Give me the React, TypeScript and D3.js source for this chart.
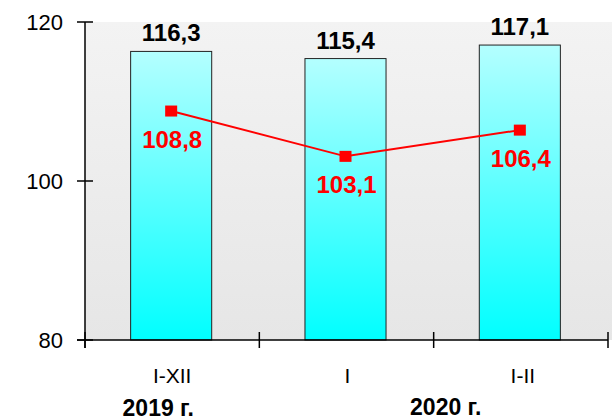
import React from "react";
import * as d3 from "d3";

const categories = ["I-XII", "I", "I-II"];
const barValues = [116.3, 115.4, 117.1];
const lineValues = [108.8, 103.1, 106.4];
const yTicks = [80, 100, 120];
const groupLabels = [
  { text: "2019 г.", from: 0, to: 0, shift: -14, baseline: 416 },
  { text: "2020 г.", from: 1, to: 2, shift: 12, baseline: 415 },
];
const fmt = (v: number) => v.toFixed(1).replace(".", ",");

export default function App() {
  const W = 612, H = 420;
  const left = 85, right = 608, top = 22, bottom = 340;
  const x = d3.scaleBand<string>().domain(categories).range([left, right]).paddingInner(0).paddingOuter(0);
  const y = d3.scaleLinear().domain([80, 120]).range([bottom, top]);
  const bw = x.bandwidth() * 0.465;
  const cx = (c: string) => (x(c) as number) + x.bandwidth() / 2 - 1;
  const line = d3.line<number>().x((_, i) => cx(categories[i])).y((d) => y(d));
  const font = "'Liberation Sans', Arial, sans-serif";
  const xTickPos = [left, ...categories.map((c) => (x(c) as number) + x.bandwidth())];

  return (
    <svg width={W} height={H} style={{ position: "absolute", left: 0, top: 0 }} fontFamily={font}>
      <defs>
        <linearGradient id="bg" x1="0" y1="0" x2="0" y2="1">
          <stop offset="0" stopColor="#f3f3f3" />
          <stop offset="1" stopColor="#e6e6e6" />
        </linearGradient>
        <linearGradient id="bar" x1="0" y1="0" x2="0" y2="1">
          <stop offset="0" stopColor="#b4ffff" />
          <stop offset="1" stopColor="#00ffff" />
        </linearGradient>
      </defs>
      <rect x={0} y={0} width={W} height={H} fill="#fff" />
      <rect x={left} y={top} width={W - left} height={bottom - top} fill="url(#bg)" />
      {categories.map((c, i) => (
        <rect key={c} x={cx(c) - bw / 2} y={y(barValues[i])} width={bw} height={bottom - y(barValues[i])}
          fill="url(#bar)" stroke="#222" strokeWidth={1} />
      ))}
      {categories.map((c, i) => (
        <text key={"bl" + c} x={cx(c)} y={y(barValues[i]) - 10} textAnchor="middle" fontWeight="bold" fontSize={24} fill="#000">
          {fmt(barValues[i])}
        </text>
      ))}
      <path d={line(lineValues) || ""} fill="none" stroke="#ff0000" strokeWidth={2} />
      {categories.map((c, i) => (
        <rect key={"m" + c} x={cx(c) - 6} y={y(lineValues[i]) - 5.5} width={12} height={11} fill="#ff0000" />
      ))}
      {categories.map((c, i) => (
        <text key={"ll" + c} x={cx(c) + 1} y={y(lineValues[i]) + 37} textAnchor="middle" fontWeight="bold" fontSize={24} fill="#ff0000">
          {fmt(lineValues[i])}
        </text>
      ))}
      {/* y axis */}
      <line x1={left} x2={left} y1={top} y2={bottom + 8} stroke="#000" strokeWidth={1.5} />
      {yTicks.map((t) => (
        <g key={t}>
          <line x1={left - 8} x2={left + 8} y1={y(t)} y2={y(t)} stroke="#000" strokeWidth={1.5} />
          <text x={63} y={y(t) + 8} textAnchor="end" fontSize={22} fill="#000">{t}</text>
        </g>
      ))}
      {/* x axis */}
      <line x1={left - 8} x2={right} y1={bottom} y2={bottom} stroke="#000" strokeWidth={1.5} />
      {xTickPos.map((p, i) => (
        <line key={"xt" + i} x1={p} x2={p} y1={bottom - 8} y2={bottom + 8} stroke="#000" strokeWidth={1.5} />
      ))}
      {categories.map((c, i) => (
        <text key={"xl" + c} x={cx(c) + 1 + i} y={383} textAnchor="middle" fontSize={21} fill="#000">{c}</text>
      ))}
      {groupLabels.map((g) => {
        const a = (x(categories[g.from]) as number) + x.bandwidth() / 2;
        const b = (x(categories[g.to]) as number) + x.bandwidth() / 2;
        const mid = (a + b) / 2 + g.shift;
        return (
          <text key={g.text} x={mid} y={g.baseline} textAnchor="middle" fontWeight="bold" fontSize={23} fill="#000">
            {g.text}
          </text>
        );
      })}
    </svg>
  );
}
